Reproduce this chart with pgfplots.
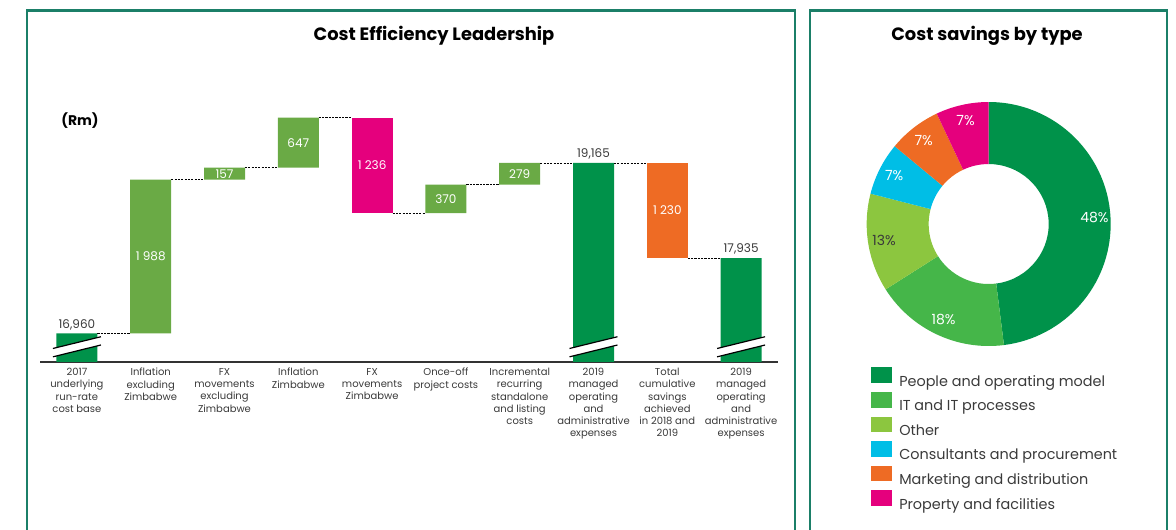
\documentclass[border=0pt]{standalone}
\usepackage{fontspec}
\setmainfont{Poppins}
\usepackage{pgfplots}
\usepackage{pgfplotstable}
\pgfplotsset{compat=1.18}

\definecolor{frame}{HTML}{1B7F68}
\definecolor{tgreen}{HTML}{00924A}
\definecolor{lgreen}{HTML}{6AAA45}
\definecolor{pink}{HTML}{E5007D}
\definecolor{orng}{HTML}{EE6B24}
\definecolor{txt}{HTML}{3A3A3A}
\definecolor{c0}{HTML}{00924A}
\definecolor{c1}{HTML}{45B649}
\definecolor{c2}{HTML}{8CC63F}
\definecolor{c3}{HTML}{00BEE6}
\definecolor{c4}{HTML}{EE6B24}
\definecolor{c5}{HTML}{E5007D}

% waterfall: invisible base + one column per colour
\pgfplotstableread{
x base total up down save
0 0     16960 0    0    0
1 16960 0     1988 0    0
2 18948 0     157  0    0
3 19105 0     647  0    0
4 18516 0     0    1236 0
5 18516 0     370  0    0
6 18886 0     279  0    0
7 0     19165 0    0    0
8 17935 0     0    0    1230
9 0     17935 0    0    0
}\wfdata

\pgfplotstableread{
pct tc
48 white
18 white
13 txt
7 white
7 white
7 white
}\donut

\tikzset{conn/.style={black, line width=0.5pt, dash pattern=on 1.6pt off 0.9pt},
  brk/.style={black, line width=0.9pt},
  inlbl/.style={font=\fontsize{9}{10}\selectfont, text=white},
  totlbl/.style={font=\fontsize{9}{10}\selectfont, text=txt, anchor=south, inner sep=2.5pt}}

\begin{document}
\begin{tikzpicture}
\useasboundingbox (0pt,0pt) rectangle (882pt,-396.75pt);
\begin{scope}[x=0.75pt,y=-0.75pt]
  \draw[frame, line width=1.6pt] (27,535) -- (27,10.5) -- (795,10.5) -- (795,535);
  \draw[frame, line width=1.6pt] (810,535) -- (810,10.5) -- (1167,10.5) -- (1167,535);
  \node[font=\bfseries\fontsize{13.4}{15}\selectfont] at (434,35.5) {Cost Efficiency Leadership};
  \node[font=\bfseries\fontsize{13.4}{15}\selectfont] at (987,35.5) {Cost savings by type};
  \node[font=\bfseries\fontsize{10.5}{12}\selectfont] at (80,120.5) {(Rm)};
\end{scope}

% bars
\begin{axis}[
  at={(30pt,-271.5pt)}, anchor=south west,
  scale only axis, width=553.5pt, height=196.5pt,
  ybar stacked, bar width=30.75pt,
  xmin=-0.5, xmax=9.5, ymin=16590, ymax=19980,
  axis x line*=bottom, axis y line=none,
  x axis line style={-, line width=1pt, color=black!80},
  xtick={0,...,9},
  xticklabels={
    {2017\\underlying\\run-rate\\cost base},
    {Inflation\\excluding\\Zimbabwe},
    {FX\\movements\\excluding\\Zimbabwe},
    {Inflation\\Zimbabwe},
    {FX\\movements\\Zimbabwe},
    {Once-off\\project costs},
    {Incremental\\recurring\\standalone\\and listing\\costs},
    {2019\\managed\\operating\\and\\administrative\\expenses},
    {Total\\cumulative\\savings\\achieved\\in 2018 and\\2019},
    {2019\\managed\\operating\\and\\administrative\\expenses}},
  xticklabel style={align=center, font=\fontsize{7.5}{9.2}\selectfont, text=txt,
    inner sep=0pt, anchor=north, yshift=-4.5pt},
  major tick length=0pt,
  ytick=\empty,
]
\addplot[draw=none, fill=none] table[x=x, y=base]{\wfdata};
\addplot[draw=none, fill=tgreen] table[x=x, y=total]{\wfdata};
\addplot[draw=none, fill=lgreen] table[x=x, y=up]{\wfdata};
\addplot[draw=none, fill=pink] table[x=x, y=down]{\wfdata};
\addplot[draw=none, fill=orng] table[x=x, y=save]{\wfdata};
\end{axis}

% connectors, breaks and labels on the same geometry
\begin{axis}[
  at={(30pt,-271.5pt)}, anchor=south west,
  scale only axis, width=553.5pt, height=196.5pt,
  xmin=-0.5, xmax=9.5, ymin=16590, ymax=19980,
  hide axis,
]
\draw[conn] (axis cs:0.278,16960) -- (axis cs:0.722,16960);
\draw[conn] (axis cs:1.278,18948) -- (axis cs:1.722,18948);
\draw[conn] (axis cs:2.278,19105) -- (axis cs:2.722,19105);
\draw[conn] (axis cs:3.278,19752) -- (axis cs:3.722,19752);
\draw[conn] (axis cs:4.278,18516) -- (axis cs:4.722,18516);
\draw[conn] (axis cs:5.278,18886) -- (axis cs:5.722,18886);
\draw[conn] (axis cs:6.278,19165) -- (axis cs:6.722,19165);
\draw[conn] (axis cs:7.278,19165) -- (axis cs:7.722,19165);
\draw[conn] (axis cs:8.278,17935) -- (axis cs:8.722,17935);

\fill[white] (axis cs:-0.325,16657) -- (axis cs:0.325,16810) -- (axis cs:0.325,16917) -- (axis cs:-0.325,16765) -- cycle;
\draw[brk] (axis cs:-0.325,16657) -- (axis cs:0.325,16810);
\draw[brk] (axis cs:-0.325,16765) -- (axis cs:0.325,16917);
\fill[white] (axis cs:6.675,16657) -- (axis cs:7.325,16810) -- (axis cs:7.325,16917) -- (axis cs:6.675,16765) -- cycle;
\draw[brk] (axis cs:6.675,16657) -- (axis cs:7.325,16810);
\draw[brk] (axis cs:6.675,16765) -- (axis cs:7.325,16917);
\fill[white] (axis cs:8.675,16657) -- (axis cs:9.325,16810) -- (axis cs:9.325,16917) -- (axis cs:8.675,16765) -- cycle;
\draw[brk] (axis cs:8.675,16657) -- (axis cs:9.325,16810);
\draw[brk] (axis cs:8.675,16765) -- (axis cs:9.325,16917);

\node[inlbl] at (axis cs:1,17954) {1 988};
\node[inlbl] at (axis cs:2,19026.5) {157};
\node[inlbl] at (axis cs:3,19428.5) {647};
\node[inlbl] at (axis cs:4,19134) {1 236};
\node[inlbl] at (axis cs:5,18701) {370};
\node[inlbl] at (axis cs:6,19025.5) {279};
\node[inlbl] at (axis cs:8,18550) {1 230};
\node[totlbl] at (axis cs:0,16960) {16,960};
\node[totlbl] at (axis cs:7,19165) {19,165};
\node[totlbl] at (axis cs:9,17935) {17,935};
\end{axis}

% donut
\begin{axis}[
  at={(741.5pt,-168pt)}, anchor=origin,
  x=1pt, y=1pt,
  xmin=-100, xmax=100, ymin=-100, ymax=100,
  hide axis, clip=false,
  legend cell align=left,
  legend image code/.code={\fill[#1] (0pt,-0.75pt) rectangle (15.75pt,10.95pt);},
  legend style={at={(0.0575,-0.038)}, anchor=north west, draw=none, fill=none,
    inner sep=0pt, outer sep=0pt, row sep=1.5pt,
    font=\fontsize{10.8}{13}\selectfont, text=txt,
    nodes={inner sep=0pt, text height=9pt, text depth=3pt},
    /tikz/every odd column/.append style={column sep=5.7pt}},
]
\pgfplotstablegetrowsof{\donut}
\pgfmathtruncatemacro\nlast{\pgfplotsretval-1}
\def\angA{90}
\pgfplotsforeachungrouped \i in {0,...,\nlast}{%
  \pgfplotstablegetelem{\i}{pct}\of\donut
  \let\pv\pgfplotsretval
  \pgfplotstablegetelem{\i}{tc}\of\donut
  \let\tc\pgfplotsretval
  \pgfmathsetmacro\angB{\angA-3.6*\pv}
  \pgfmathsetmacro\angM{(\angA+\angB)/2}
  \edef\cmd{\noexpand\fill[c\i] (axis cs:0,0) ++(\angA:91.5pt)
    arc[start angle=\angA, end angle=\angB, radius=91.5pt]
    -- ++(\angB:-46.5pt)
    arc[start angle=\angB, end angle=\angA, radius=45pt] -- cycle;
    \noexpand\path (axis cs:0,0) ++(\angM:79.5pt)
    node[text=\tc, font=\noexpand\fontsize{10.5}{12}\noexpand\selectfont] {\pv\noexpand\%};}
  \cmd
  \let\angA\angB
}
\addlegendimage{fill=c0, draw=none}
\addlegendimage{fill=c1, draw=none}
\addlegendimage{fill=c2, draw=none}
\addlegendimage{fill=c3, draw=none}
\addlegendimage{fill=c4, draw=none}
\addlegendimage{fill=c5, draw=none}
\legend{People and operating model, IT and IT processes, Other,
  Consultants and procurement, Marketing and distribution, Property and facilities}
\end{axis}
\end{tikzpicture}
\end{document}
